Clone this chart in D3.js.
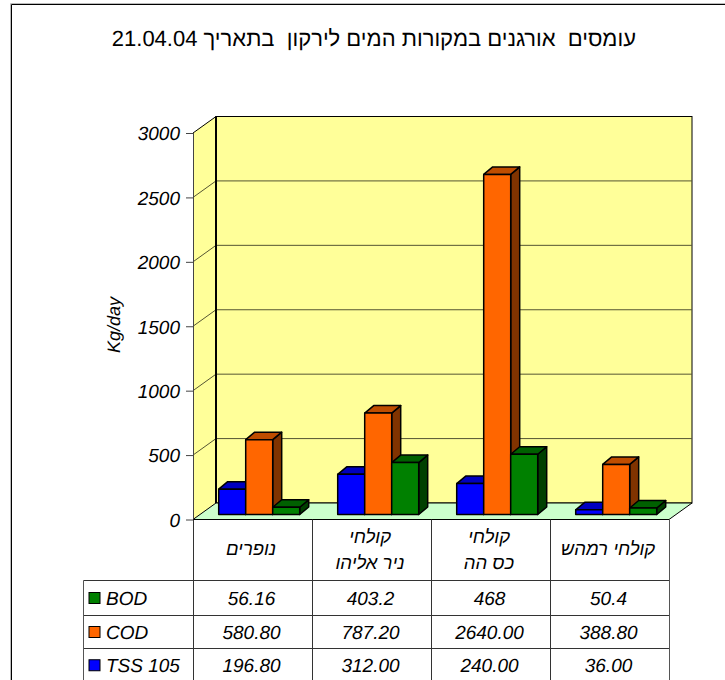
<!DOCTYPE html>
<meta charset="utf-8">
<style>
  body { margin: 0; background: #fff; }
  text { font-family: "Liberation Sans", Arial, sans-serif; fill: #000; text-rendering: geometricPrecision; }
</style>
<div id="my_dataviz"></div>
<script src="https://d3js.org/d3.v7.min.js"></script>
<script>

  var titleText = "עומסים  אורגנים במקורות המים לירקון  בתאריך 21.04.04"
  var yTitle = "Kg/day"

  // each category is a list of lines for the table header
  var categories = [["נופרים"], ["קולחי", "ניר אליהו"], ["קולחי", "כס הה"], ["קולחי רמהש"]]
  var yTicks = [0, 500, 1000, 1500, 2000, 2500, 3000]

  var tss = [196.8, 312, 240, 36]
  var cod = [580.8, 787.2, 2640, 388.8]
  var bod = [56.16, 403.2, 468, 50.4]

  // table shows these as they were typed in the sheet
  var tssLabels = ["196.80", "312.00", "240.00", "36.00"]
  var codLabels = ["580.80", "787.20", "2640.00", "388.80"]
  var bodLabels = ["56.16", "403.2", "468", "50.4"]

  var seriesNames = ["TSS 105", "COD", "BOD"]
  var seriesValues = [tss, cod, bod]
  var seriesLabels = [tssLabels, codLabels, bodLabels]
  var frontColors = ["#0000ff", "#ff6600", "#008000"]
  var topColors = ["#0000bf", "#bf4d00", "#006000"]
  var sideColors = ["#000080", "#803300", "#004000"]

  var rowOrder = [2, 1, 0]
  var fontSize = "19px"

  var svg = d3.select("#my_dataviz").append("svg")
    .attr("width", 725)
    .attr("height", 680)
    .style("display", "block")

  var y = d3.scaleLinear().domain([0, 3000]).range([519.5, 133])
  var x = d3.scaleBand().domain(d3.range(categories.length)).range([193, 669])
  var xInner = d3.scaleBand().domain(d3.range(seriesNames.length)).range([25.7, 106.7])

  // 3d offsets
  var wallDx = 23, wallDy = -16.5
  var barShift = -5, barDx = 9, barDy = -7.5

  // outer frame, gray edge then black
  svg.append("path")
    .attr("d", "M10.5,680V3.5H725")
    .attr("fill", "none")
    .attr("stroke", "#bbb")
  svg.append("path")
    .attr("d", "M11.5,680V4.5H725")
    .attr("fill", "none")
    .attr("stroke", "#000")

  svg.append("text")
    .attr("x", 636)
    .attr("y", 46)
    .attr("text-anchor", "start")
    .style("direction", "rtl")
    .style("unicode-bidi", "embed")
    .style("white-space", "pre")
    .style("font-size", "22px")
    .text(titleText)

  var plot = svg.append("g")

  // left wall
  plot.append("path")
    .attr("d", d3.line()([[193, y(0)], [193, y(3000)], [193 + wallDx, y(3000) + wallDy], [193 + wallDx, y(0) + wallDy]]) + "Z")
    .attr("fill", "#ffff99")
    .attr("stroke", "none")

  // back wall
  plot.append("rect")
    .attr("x", 193 + wallDx)
    .attr("y", y(3000) + wallDy)
    .attr("width", 669 - 193)
    .attr("height", y(0) - y(3000))
    .attr("fill", "#ffff99")
    .attr("stroke", "#000")

  // floor
  plot.append("path")
    .attr("d", d3.line()([[193, y(0)], [669, y(0)], [669 + wallDx, y(0) + wallDy], [193 + wallDx, y(0) + wallDy]]) + "Z")
    .attr("fill", "#ccffcc")
    .attr("stroke", "none")

  // grid lines, side wall part and back wall part
  yTicks.slice(1, -1).forEach(function(t) {
    plot.append("path")
      .attr("d", d3.line()([[193, y(t)], [193 + wallDx, y(t) + wallDy], [669 + wallDx, y(t) + wallDy]]))
      .attr("fill", "none")
      .attr("stroke", "#555533")
  })

  plot.append("path")
    .attr("d", d3.line()([[193, y(3000)], [193 + wallDx, y(3000) + wallDy]]))
    .attr("stroke", "#000")
  plot.append("path")
    .attr("d", d3.line()([[193, y(0)], [193 + wallDx, y(0) + wallDy], [669 + wallDx, y(0) + wallDy], [669, y(0)]]))
    .attr("fill", "none")
    .attr("stroke", "#000")
  plot.append("line")
    .attr("x1", 193 + wallDx).attr("x2", 193 + wallDx)
    .attr("y1", y(3000) + wallDy).attr("y2", y(0) + wallDy)
    .attr("stroke", "#000")
    .attr("stroke-width", 2)

  // bars, blue first so the next one covers its side
  seriesValues.forEach(function(values, s) {
    values.forEach(function(v, i) {
      var left = x(i) + xInner(s)
      var right = left + xInner.bandwidth()
      var top = y(v) + barShift
      var bottom = y(0) + barShift
      var g = plot.append("g").attr("stroke", "#000").attr("stroke-width", 1.5).attr("stroke-linejoin", "round")

      g.append("path")
        .attr("d", d3.line()([[right, top], [right + barDx, top + barDy], [right + barDx, bottom + barDy], [right, bottom]]) + "Z")
        .attr("fill", sideColors[s])
      g.append("path")
        .attr("d", d3.line()([[left, top], [left + barDx, top + barDy], [right + barDx, top + barDy], [right, top]]) + "Z")
        .attr("fill", topColors[s])
      g.append("rect")
        .attr("x", left)
        .attr("y", top)
        .attr("width", right - left)
        .attr("height", bottom - top)
        .attr("fill", frontColors[s])
    })
  })

  // y axis
  var yAxis = svg.append("g")
    .attr("transform", "translate(193,0)")
    .call(d3.axisLeft(y).tickValues(yTicks).tickSize(7).tickPadding(6).tickFormat(d3.format("d")))
  yAxis.select(".domain").attr("stroke", "#444").attr("d", "M0.5," + y(3000) + "V" + y(0))
  yAxis.selectAll(".tick line").attr("stroke", "#444")
  yAxis.selectAll("text")
    .attr("dy", "0.36em")
    .style("font-size", fontSize)
    .style("font-style", "italic")
    .style("font-family", '"Liberation Sans", Arial, sans-serif')

  svg.append("text")
    .attr("transform", "translate(120,325) rotate(-90)")
    .attr("text-anchor", "middle")
    .style("font-size", "18px")
    .style("font-style", "italic")
    .text(yTitle)

  // data table
  var rowY = [519.5, 580.5, 615.5, 648.5, 682]
  var table = svg.append("g")

  rowY.slice(1).forEach(function(ry) {
    table.append("line")
      .attr("x1", 83.5).attr("x2", 669)
      .attr("y1", ry).attr("y2", ry)
      .attr("stroke", "#333")
  })
  table.append("line")
    .attr("x1", 193).attr("x2", 669)
    .attr("y1", y(0)).attr("y2", y(0))
    .attr("stroke", "#000")

  x.domain().forEach(function(i) {
    table.append("line")
      .attr("x1", x(i) + 0.5).attr("x2", x(i) + 0.5)
      .attr("y1", rowY[0]).attr("y2", 680)
      .attr("stroke", "#333")
  })
  table.append("line")
    .attr("x1", 669.5).attr("x2", 669.5)
    .attr("y1", rowY[0]).attr("y2", 680)
    .attr("stroke", "#555")
  table.append("line")
    .attr("x1", 83.5).attr("x2", 83.5)
    .attr("y1", rowY[1]).attr("y2", 680)
    .attr("stroke", "#555")

  categories.forEach(function(lines, i) {
    var cy = lines.length == 1 ? 555 : 543
    lines.forEach(function(line, k) {
      table.append("text")
        .attr("x", x(i) + x.bandwidth() / 2 - 1.5)
        .attr("y", cy + k * 25.5)
        .attr("text-anchor", "middle")
        .style("direction", "rtl")
        .style("font-size", "18.5px")
        .style("font-style", "italic")
        .text(line)
    })
  })

  rowOrder.forEach(function(s, r) {
    var cy = (rowY[r + 1] + rowY[r + 2]) / 2

    table.append("rect")
      .attr("x", 89)
      .attr("y", cy - 5.5)
      .attr("width", 11)
      .attr("height", 11)
      .attr("fill", frontColors[s])
      .attr("stroke", "#000")

    table.append("text")
      .attr("x", 106)
      .attr("y", cy + 6.5)
      .style("font-size", fontSize)
      .style("font-style", "italic")
      .text(seriesNames[s])

    seriesLabels[s].forEach(function(label, i) {
      table.append("text")
        .attr("x", x(i) + x.bandwidth() / 2 - 1)
        .attr("y", cy + 6.5)
        .attr("text-anchor", "middle")
        .style("font-size", fontSize)
        .style("font-style", "italic")
        .text(label)
    })
  })

</script>
